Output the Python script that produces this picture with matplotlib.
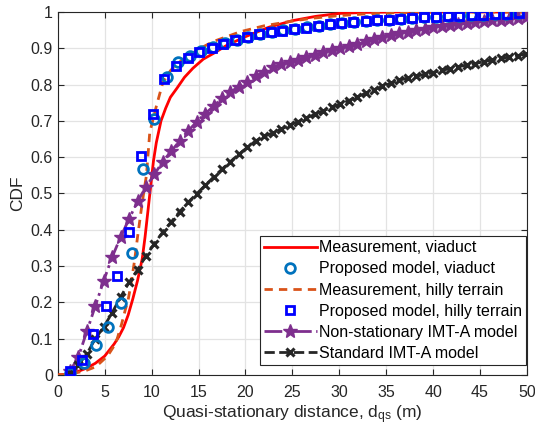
import matplotlib
matplotlib.use("Agg")
import matplotlib.pyplot as plt

plt.rcParams['font.family'] = ['Liberation Sans', 'DejaVu Sans']
plt.rcParams['mathtext.default'] = 'regular'

# Measurement, viaduct
meas_via_x = [0, 1, 2, 3, 4, 5, 6, 6.5, 7, 7.5, 8, 8.5, 9, 9.3, 9.6, 9.9, 10.2, 10.5, 11, 11.5, 12,
              12.7, 13.5, 14.4, 15.5, 16.6, 18, 20, 22.5, 25, 27.5, 30, 33, 36, 40, 50]
meas_via_y = [0, 0.002, 0.008, 0.018, 0.032, 0.052, 0.085, 0.105, 0.13, 0.165, 0.21, 0.26, 0.32, 0.38,
              0.45, 0.52, 0.59, 0.64, 0.70, 0.735, 0.765, 0.79, 0.82, 0.845, 0.87, 0.886, 0.908, 0.932,
              0.958, 0.976, 0.988, 0.996, 0.999, 1.0, 1.0, 1.0]

# Proposed model, viaduct
prop_via_x = [1.3, 2.8, 4.1, 5.35, 6.7, 7.9, 9.1, 10.3, 11.6, 12.8, 14.05, 15.3, 16.55, 17.8, 19.05,
              20.3, 21.55, 22.8, 24.05, 25.3, 26.55, 27.8, 29.05, 30.3, 31.55, 32.8, 34.05, 35.3, 36.55,
              37.8, 39.05, 40.3, 41.55, 42.8, 44.05, 45.3, 46.55, 47.8, 49.05]
prop_via_y = [0.005, 0.033, 0.083, 0.133, 0.198, 0.336, 0.568, 0.706, 0.82, 0.862, 0.878, 0.892, 0.904,
              0.915, 0.924, 0.932, 0.940, 0.945, 0.950, 0.954, 0.958, 0.962, 0.966, 0.970, 0.972, 0.975,
              0.977, 0.979, 0.981, 0.983, 0.985, 0.987, 0.989, 0.990, 0.992, 0.993, 0.994, 0.995, 0.996]

# Measurement, hilly terrain
meas_hil_x = [0, 1, 2, 3, 4, 4.5, 5, 5.5, 6, 6.3, 6.8, 7.2, 7.5, 7.8, 8.2, 8.5, 8.9, 9.2, 9.45, 9.8,
              10.5, 11.2, 12.0, 12.5, 13.5, 14.5, 15.5, 16.5, 18, 19.5, 22, 25, 27.2, 30, 33, 36, 40, 50]
meas_hil_y = [0, 0.002, 0.006, 0.012, 0.022, 0.033, 0.045, 0.06, 0.08, 0.097, 0.14, 0.18, 0.207, 0.25,
              0.318, 0.38, 0.456, 0.51, 0.55, 0.668, 0.74, 0.806, 0.838, 0.852, 0.873, 0.889, 0.904,
              0.918, 0.932, 0.946, 0.962, 0.975, 0.983, 0.990, 0.995, 0.998, 1.0, 1.0]

# Proposed model, hilly terrain
prop_hil_x = [1.3, 2.55, 3.8, 5.1, 6.3, 7.6, 8.85, 10.1, 11.35, 12.6, 13.9, 15.1, 16.4, 17.6, 18.9,
              20.2, 21.4, 22.7, 23.9, 25.2, 26.5, 27.7, 29.0, 30.2, 31.5, 32.8, 34.0, 35.3, 36.5, 37.8,
              39.0, 40.3, 41.6, 42.8, 44.1, 45.3, 46.6, 47.9, 49.1]
prop_hil_y = [0.01, 0.04, 0.113, 0.19, 0.273, 0.395, 0.602, 0.718, 0.815, 0.852, 0.872, 0.889, 0.902,
              0.913, 0.923, 0.930, 0.939, 0.944, 0.948, 0.953, 0.957, 0.962, 0.966, 0.970, 0.972, 0.975,
              0.977, 0.979, 0.981, 0.983, 0.985, 0.987, 0.989, 0.990, 0.992, 0.993, 0.994, 0.995, 0.996]

# IMT-A models
imt_x = [1.3, 2.2, 3.1, 4.0, 4.9, 5.8, 6.7, 7.6, 8.5, 9.4, 10.3, 11.2, 12.1, 13.0, 13.9, 14.8, 15.7,
         16.6, 17.5, 18.4, 19.3, 20.2, 21.1, 22.0, 22.9, 23.8, 24.7, 25.6, 26.5, 27.4, 28.3, 29.2, 30.1,
         31.0, 31.9, 32.8, 33.7, 34.6, 35.5, 36.4, 37.3, 38.2, 39.1, 40.0, 40.9, 41.8, 42.7, 43.6, 44.5,
         45.4, 46.3, 47.2, 48.1, 49.0, 49.9]
nonstat_y = [0.01, 0.05, 0.12, 0.19, 0.26, 0.325, 0.38, 0.43, 0.478, 0.518, 0.553, 0.588, 0.617, 0.645,
             0.673, 0.697, 0.72, 0.74, 0.763, 0.78, 0.794, 0.808, 0.823, 0.835, 0.849, 0.856, 0.862,
             0.869, 0.876, 0.882, 0.889, 0.895, 0.901, 0.907, 0.913, 0.919, 0.925, 0.931, 0.937, 0.942,
             0.946, 0.950, 0.954, 0.958, 0.961, 0.964, 0.967, 0.969, 0.972, 0.974, 0.977, 0.979, 0.981,
             0.983, 0.985]
standard_y = [0.005, 0.028, 0.058, 0.10, 0.132, 0.172, 0.215, 0.255, 0.29, 0.328, 0.362, 0.394, 0.422,
              0.45, 0.476, 0.499, 0.522, 0.545, 0.567, 0.588, 0.608, 0.627, 0.645, 0.657, 0.667, 0.677,
              0.688, 0.698, 0.708, 0.718, 0.728, 0.737, 0.746, 0.756, 0.766, 0.776, 0.786, 0.795, 0.804,
              0.812, 0.818, 0.823, 0.828, 0.833, 0.839, 0.844, 0.849, 0.854, 0.858, 0.863, 0.868, 0.872,
              0.876, 0.880, 0.884]

labels = ['Measurement, viaduct', 'Proposed model, viaduct', 'Measurement, hilly terrain',
          'Proposed model, hilly terrain', 'Non-stationary IMT-A model', 'Standard IMT-A model']
x_ticks = [0, 5, 10, 15, 20, 25, 30, 35, 40, 45, 50]
y_ticks = [0, 0.1, 0.2, 0.3, 0.4, 0.5, 0.6, 0.7, 0.8, 0.9, 1.0]
y_ticklabels = ['0', '0.1', '0.2', '0.3', '0.4', '0.5', '0.6', '0.7', '0.8', '0.9', '1']

fig = plt.figure(figsize=(5.35, 4.28), dpi=100)
ax = fig.add_axes([0.108, 0.124, 0.877, 0.848])

dark = '#262626'
ax.plot(meas_via_x, meas_via_y, '-', color='#FF0000', lw=2, label=labels[0], zorder=3)
ax.plot(prop_via_x, prop_via_y, 'o', color='#0072BD', mfc='none', mew=2, ms=7, label=labels[1], zorder=4)
ax.plot(meas_hil_x, meas_hil_y, '--', color='#D95319', lw=2, dashes=(3, 2.2), label=labels[2], zorder=3)
ax.plot(prop_hil_x, prop_hil_y, 's', color='#0000FF', mfc='none', mew=2, ms=6, label=labels[3], zorder=5)
ax.plot(imt_x, nonstat_y, '-.', color='#7E2F8E', lw=2, marker='*', ms=10, label=labels[4], zorder=3)
ax.plot(imt_x, standard_y, '--', color=dark, lw=2, marker='x', ms=6, mew=2.2, label=labels[5], zorder=3)

ax.set_xlim(0, 50)
ax.set_ylim(0, 1)
ax.set_xticks(x_ticks)
ax.set_yticks(y_ticks)
ax.set_yticklabels(y_ticklabels)
ax.grid(True, color='#e3e3e3', lw=0.9)
ax.set_axisbelow(True)
ax.tick_params(direction='in', top=True, right=True, labelsize=11.5, colors=dark, length=4)
ax.tick_params(axis='x', pad=7)
for sp in ax.spines.values():
    sp.set_color(dark)
    sp.set_linewidth(0.8)
ax.set_xlabel('Quasi-stationary distance, d$_{qs}$ (m)', fontsize=12.5, color=dark, labelpad=3)
ax.set_ylabel('CDF', fontsize=12.5, color=dark, labelpad=4)

leg = ax.legend(loc='lower right', bbox_to_anchor=(0.998, 0.028), fontsize=11.5, frameon=True,
                fancybox=False, edgecolor=dark, framealpha=1, borderpad=0.25, labelspacing=0.38,
                handlelength=3.3, handletextpad=0.15, borderaxespad=0)
leg.get_frame().set_linewidth(0.8)
for t in leg.get_texts():
    t.set_color('black')

fig.savefig('out.png', dpi=100)
